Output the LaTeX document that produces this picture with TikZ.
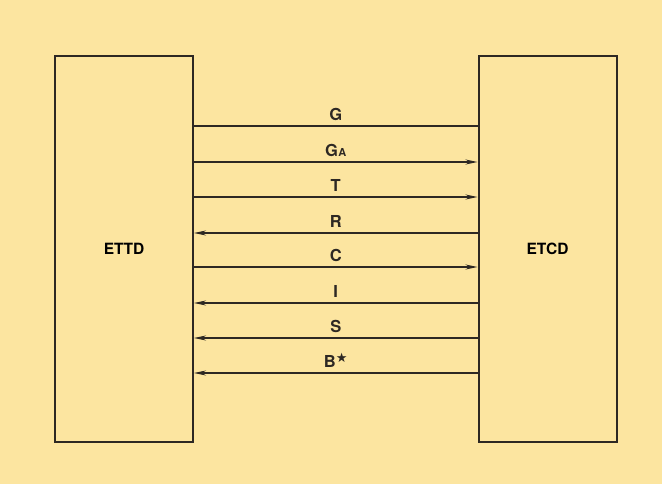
\documentclass[tikz,border=0pt]{standalone}
\usepackage{fontspec}
\setmainfont{TeX Gyre Heros}
\newfontfamily\symfont{DejaVu Sans}
\usetikzlibrary{arrows.meta}
\definecolor{paper}{RGB}{252,229,160}
\definecolor{ink}{RGB}{45,40,35}

\tikzset{
  unit/.style={draw=ink, line width=2pt, minimum width=138pt, minimum height=386pt,
    font=\fontsize{15.5}{15.5}\selectfont\bfseries},
  plainline/.style={draw=ink, line width=1.1pt},
  sendline/.style={plainline, -{Stealth[length=12pt,width=5pt]}},
  recvline/.style={plainline, {Stealth[length=12pt,width=5pt]}-},
  sig/.style={above, inner sep=0pt, yshift=5pt, text depth=0pt, text=ink,
    font=\fontsize{16.5}{16.5}\selectfont\bfseries}
}

\begin{document}
\begin{tikzpicture}[x=1pt,y=-1pt]
\fill[paper] (0,0) rectangle (662,484);
\useasboundingbox (0,0) rectangle (662,484);

\node[unit] (ettd) at (124,249) {ETTD};
\node[unit] (etcd) at (547.5,249) {ETCD};

\foreach \y/\lab/\kind in {126/G/plainline,
    162/{G\kern0.5pt{\fontsize{11}{11}\selectfont A}}/sendline,
    197/T/sendline, 233/R/recvline, 267/C/sendline,
    303/I/recvline, 338/S/recvline,
    373/{B\raisebox{4.5pt}{\symfont\fontsize{13}{13}\selectfont ★}}/recvline}
{   \draw[\kind] (ettd.east |- 0,\y) -- (etcd.west |- 0,\y)
      node[sig, midway] (sig\y) {\lab};
}
\end{tikzpicture}
\end{document}
